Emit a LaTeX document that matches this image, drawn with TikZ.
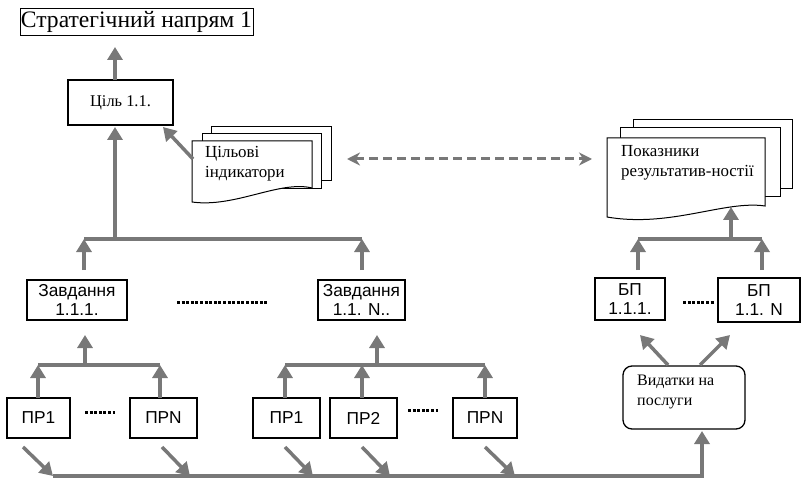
\documentclass[tikz,border=0pt]{standalone}
\usepackage{fontspec}
\setmainfont{Liberation Serif}
\newfontfamily\arialf{Liberation Sans}
\usetikzlibrary{arrows.meta}
\definecolor{garrow}{HTML}{787878}
\begin{document}
\begin{tikzpicture}[x=1pt,y=-1pt,
  box/.style={draw=black,line width=1.3pt,fill=white,inner sep=0pt,align=center,
    font=\arialf\fontsize{17.3}{19}\selectfont},
  arr/.style={draw=garrow,line width=3.5pt,-{Triangle[length=13pt,width=15pt]}},
  bar/.style={draw=garrow,line width=3.5pt},
  dots/.style={draw=black,line width=3pt,dash pattern=on 3pt off 1.6pt},
  doc/.style={draw=black,line width=1pt,fill=white},
  dtext/.style={anchor=north west,align=left,inner sep=0pt,font=\fontsize{16.9}{20}\selectfont}]
\useasboundingbox (0,0) rectangle (805,478);

% title and goal
\node[draw,line width=0.8pt,minimum width=233pt,minimum height=27pt,inner sep=0pt,
  font=\fontsize{23.6}{25}\selectfont] (title) at (136.5,21.5) {Стратегічний напрям 1};
\node[box,minimum width=105pt,minimum height=45pt,font=\fontsize{16.4}{18}\selectfont] (cil) at (120.5,102.5) {Ціль 1.1.};
\coordinate (cilTop) at (115,80);
\coordinate (cilTip) at (115,47);
\draw[arr] (cilTop) -- (cilTip);

% tasks
\node[box,minimum width=100pt,minimum height=40pt] (zav1) at (77,300) {Завдання\\1.1.1.};
\node[box,minimum width=87pt,minimum height=40pt] (zavN) at (361.5,300) {Завдання\\1.1. N..};
\coordinate (d1a) at (177,302); \coordinate (d1b) at (268,302);
\draw[dots] (d1a) -- (d1b);

% trunk to goal
\coordinate (barL) at (84,239); \coordinate (barM) at (115,239); \coordinate (barR) at (362,239);
\coordinate (cilBot) at (115,127);
\draw[bar] (barL) -- (barR);
\draw[arr] (barM) -- (cilBot);
\coordinate (z1t) at (84,270); \coordinate (zNt) at (362,270);
\draw[arr] (z1t) -- (barL);
\draw[arr] (zNt) -- (barR);

% programs group A
\node[box,minimum width=63pt,minimum height=40pt] (pr1a) at (38.5,418) {ПР1};
\node[box,minimum width=67pt,minimum height=40pt] (prNa) at (163.5,418) {ПРN};
\coordinate (dAa) at (85,412); \coordinate (dAb) at (115,412);
\draw[dots] (dAa) -- (dAb);
\coordinate (gAL) at (38,365); \coordinate (gAM) at (85,365); \coordinate (gAR) at (160,365);
\coordinate (gAtip) at (85,335);
\draw[bar] (gAL) -- (gAR);
\draw[arr] (gAM) -- (gAtip);
\coordinate (pr1aT) at (38,398); \coordinate (prNaT) at (160,398);
\draw[arr] (pr1aT) -- (gAL);
\draw[arr] (prNaT) -- (gAR);

% programs group B
\node[box,minimum width=67pt,minimum height=40pt] (pr1b) at (286.5,418) {ПР1};
\node[box,minimum width=67pt,minimum height=40pt] (pr2b) at (363.5,418) {ПР2};
\node[box,minimum width=64pt,minimum height=40pt] (prNb) at (485,418) {ПРN};
\coordinate (dBa) at (408,410); \coordinate (dBb) at (438,410);
\draw[dots] (dBa) -- (dBb);
\coordinate (gBL) at (285,365); \coordinate (gB2) at (362,365); \coordinate (gBM) at (377,365); \coordinate (gBR) at (485,365);
\coordinate (gBtip) at (377,335);
\draw[bar] (gBL) -- (gBR);
\draw[arr] (gBM) -- (gBtip);
\coordinate (pr1bT) at (285,398); \coordinate (pr2bT) at (362,398); \coordinate (prNbT) at (485,398);
\draw[arr] (pr1bT) -- (gBL);
\draw[arr] (pr2bT) -- (gB2);
\draw[arr] (prNbT) -- (gBR);

% expenses
\node[box,rounded corners=9pt,minimum width=122pt,minimum height=63pt] (vyd) at (684,397.5) {};
\node[dtext,font=\fontsize{16}{20}\selectfont] (vydt) at (637,375) {Видатки на\\послуги};

% bottom bar
\coordinate (b1s) at (23,447); \coordinate (b1e) at (53,476);
\coordinate (b2s) at (162,447); \coordinate (b2e) at (190,476);
\coordinate (b3s) at (285,447); \coordinate (b3e) at (313,476);
\coordinate (b4s) at (362,447); \coordinate (b4e) at (390,476);
\coordinate (b5s) at (485,447); \coordinate (b5e) at (515,476);
\coordinate (bEnd) at (702,476); \coordinate (vydB) at (702,431);
\draw[bar,-{Triangle[length=13pt,width=15pt]}] (b1e) -- (bEnd) -- (vydB);
\draw[arr] (b1s) -- (b1e);
\draw[arr] (b2s) -- (b2e);
\draw[arr] (b3s) -- (b3e);
\draw[arr] (b4s) -- (b4e);
\draw[arr] (b5s) -- (b5e);

% budget programs
\node[box,minimum width=70pt,minimum height=42pt] (bp1) at (630,299) {БП\\1.1.1.};
\node[box,minimum width=82pt,minimum height=44pt] (bpN) at (759,300) {БП\\1.1. N};
\coordinate (dCa) at (683,302); \coordinate (dCb) at (715,302);
\draw[dots] (dCa) -- (dCb);
\coordinate (v1) at (668,365); \coordinate (v1t) at (640,335);
\coordinate (v2) at (700,365); \coordinate (v2t) at (730,335);
\draw[arr] (v1) -- (v1t);
\draw[arr] (v2) -- (v2t);
\coordinate (gCL) at (638,239); \coordinate (gCM) at (731,239); \coordinate (gCR) at (762,239);
\coordinate (gCtip) at (731,207);
\draw[bar] (gCL) -- (gCR);
\draw[arr] (gCM) -- (gCtip);
\coordinate (bp1T) at (638,270); \coordinate (bpNT) at (762,270);
\draw[arr] (bp1T) -- (gCL);
\draw[arr] (bpNT) -- (gCR);

% document: target indicators
\draw[doc] (211,127) rectangle (331,181);
\draw[doc] (202,134) rectangle (321,189);
\draw[doc] (192,141) -- (312,141) -- (312,188) .. controls (280,180) and (235,208) .. (192,202) -- cycle;
\node[dtext] (cilind) at (205,146) {Цільові\\індикатори};
\coordinate (ciA) at (193,159); \coordinate (ciB) at (163,127);
\draw[arr] (ciA) -- (ciB);

% document: performance indicators
\draw[doc] (633,120) rectangle (792,189);
\draw[doc] (620,128) rectangle (780,197);
\draw[doc] (607,138) -- (765,138) -- (765,206) .. controls (725,200) and (670,228) .. (607,217) -- cycle;
\node[dtext] (pokaz) at (621,145) {Показники\\результатив-ностії};

% dashed link
\coordinate (dlA) at (347,159); \coordinate (dlB) at (592,159);
\draw[draw=garrow,line width=3pt,dash pattern=on 9pt off 5pt,
  {Stealth[length=13pt,width=13pt]}-{Stealth[length=13pt,width=13pt]}] (dlA) -- (dlB);
\end{tikzpicture}
\end{document}
